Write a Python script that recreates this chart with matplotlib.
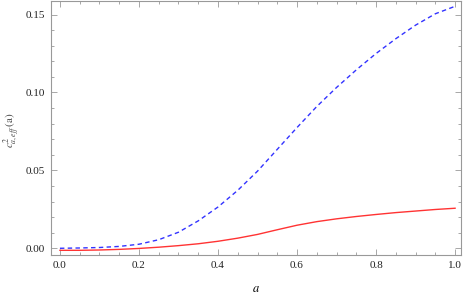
import matplotlib
matplotlib.use("Agg")
import matplotlib.pyplot as plt
from matplotlib.ticker import MultipleLocator, FormatStrFormatter

a_vals = [0.0, 0.05, 0.1, 0.15, 0.2, 0.25, 0.3, 0.35, 0.4, 0.45, 0.5, 0.55,
          0.6, 0.65, 0.7, 0.75, 0.8, 0.85, 0.9, 0.95, 1.0]
blue_vals = [0.0, 0.0002, 0.0005, 0.0012, 0.0026, 0.0055, 0.0103, 0.0176, 0.0265,
             0.0372, 0.0495, 0.0635, 0.0775, 0.091, 0.1032, 0.1145, 0.125, 0.1345,
             0.1432, 0.1505, 0.1553]
red_vals = [-0.0013, -0.0013, -0.0011, -0.0007, -0.0001, 0.0007, 0.0017, 0.0029,
            0.0045, 0.0065, 0.0089, 0.0119, 0.0148, 0.0171, 0.0189, 0.0204,
            0.0217, 0.0229, 0.0239, 0.0249, 0.0257]

plt.rcParams['mathtext.fontset'] = 'stix'
plt.rcParams['font.family'] = ['Liberation Serif', 'DejaVu Serif']

fig = plt.figure(figsize=(4.63, 2.94), dpi=100)
ax = fig.add_axes([0.110, 0.1327, 0.8857, 0.8639])

ax.plot(a_vals, blue_vals, color='#3333ff', lw=1.0, dashes=(3.2, 2.4))
ax.plot(a_vals, red_vals, color='#ff3333', lw=1.0)

ax.set_xlim(-0.0228, 1.015)
ax.set_ylim(-0.0043, 0.1587)

ax.xaxis.set_major_locator(MultipleLocator(0.2))
ax.xaxis.set_minor_locator(MultipleLocator(0.05))
ax.yaxis.set_major_locator(MultipleLocator(0.05))
ax.yaxis.set_minor_locator(MultipleLocator(0.01))
ax.xaxis.set_major_formatter(FormatStrFormatter('%.1f'))
ax.yaxis.set_major_formatter(FormatStrFormatter('%.2f'))

frame_col = '#999999'
for s in ax.spines.values():
    s.set_color(frame_col)
    s.set_linewidth(0.8)
ax.tick_params(which='both', direction='in', top=True, right=True,
               color=frame_col, width=0.6, labelsize=8, labelcolor='#222222')
ax.tick_params(which='major', length=4.5, pad=4)
ax.tick_params(which='minor', length=2.5)

ax.set_xlabel(r'$a$', fontsize=9, labelpad=10)
ax.set_ylabel(r'$c^2_{a,eff}\,(\mathrm{a})$', fontsize=8, color='#444444')
ax.yaxis.label.set_va('center')
ax.yaxis.set_label_coords(-0.095, 0.49)

fig.savefig('out.png', dpi=100)
